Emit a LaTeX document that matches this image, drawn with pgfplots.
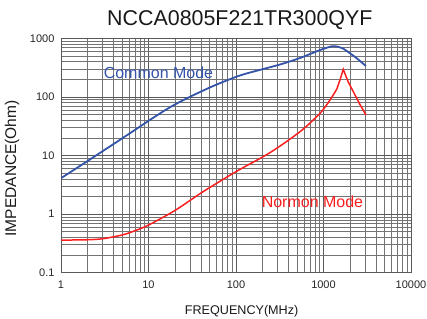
\documentclass[border=0pt]{standalone}
\usepackage{pgfplots}
\pgfplotsset{compat=1.18}
\usepackage{fontspec}
\setmainfont{Liberation Sans}
\definecolor{cmblue}{RGB}{52,84,170}
\definecolor{nmred}{RGB}{250,30,30}
\begin{document}
\begin{tikzpicture}
\useasboundingbox (-61pt,-45.3pt) rectangle (366pt,272.7pt);
\begin{axis}[
  scale only axis,
  width=350pt, height=234.4pt,
  xmode=log, ymode=log,
  xmin=1, xmax=10000, ymin=0.1, ymax=1000,
  xtick={1,10,100,1000,10000},
  xticklabels={1,10,100,1000,10000},
  ytick={0.1,1,10,100,1000},
  yticklabels={0.1,1,10,100,1000},
  grid=both,
  major grid style={black!65, line width=0.6pt},
  minor grid style={black!55, line width=0.55pt},
  axis line style={black!65, line width=0.6pt},
  major tick length=0pt, minor tick length=0pt,
  tick label style={font=\fontsize{11}{13}\selectfont, text=black!85},
  xticklabel style={yshift=-5pt},
  yticklabel style={xshift=-3pt},
  title={NCCA0805F221TR300QYF},
  title style={font=\fontsize{21.4}{24}\selectfont, at={(0.511,1)}, anchor=base, yshift=6.5pt, text=black!90},
  xlabel={FREQUENCY(MHz)},
  xlabel style={font=\fontsize{12.6}{15}\selectfont, at={(axis description cs:0.516,0)}, anchor=center, yshift=-38.5pt, text=black!90},
  ylabel={IMPEDANCE(Ohm)},
  ylabel style={font=\fontsize{15.5}{18}\selectfont, at={(axis description cs:-0.14,0.445)}, anchor=center, text=black!90},
]
\addplot[cmblue, line width=1.8pt, smooth] coordinates {
(1,4.1) (2,8.0) (5,19.6) (10,39) (15.4,59) (20,74) (30,101) (57.5,158) (111,232) (188,289)
(318,357) (539,461) (912,630) (1240,728) (1450,720) (1683,665) (1841,610) (2400,455) (3050,337)
};
\addplot[nmred, line width=1.5pt, smooth] coordinates {
(1,0.36) (2,0.365) (3,0.38) (5,0.44) (7,0.52) (10,0.65) (20,1.15) (40,2.3) (70,3.85)
(111,5.8) (245,11.2) (539,25.5) (912,52.5) (1186,88.5) (1416,135)
};
\addplot[nmred, line width=1.5pt] coordinates {
(1416,135) (1550,198) (1683,296) (1900,185) (2190,123) (2600,75) (3060,49)
};
\node[text=cmblue, font=\fontsize{16}{19}\selectfont] at (axis cs:13,263) {Common Mode};
\node[text=nmred, font=\fontsize{16}{19}\selectfont] at (axis cs:748,1.63) {Normon Mode};
\end{axis}
\end{tikzpicture}
\end{document}
